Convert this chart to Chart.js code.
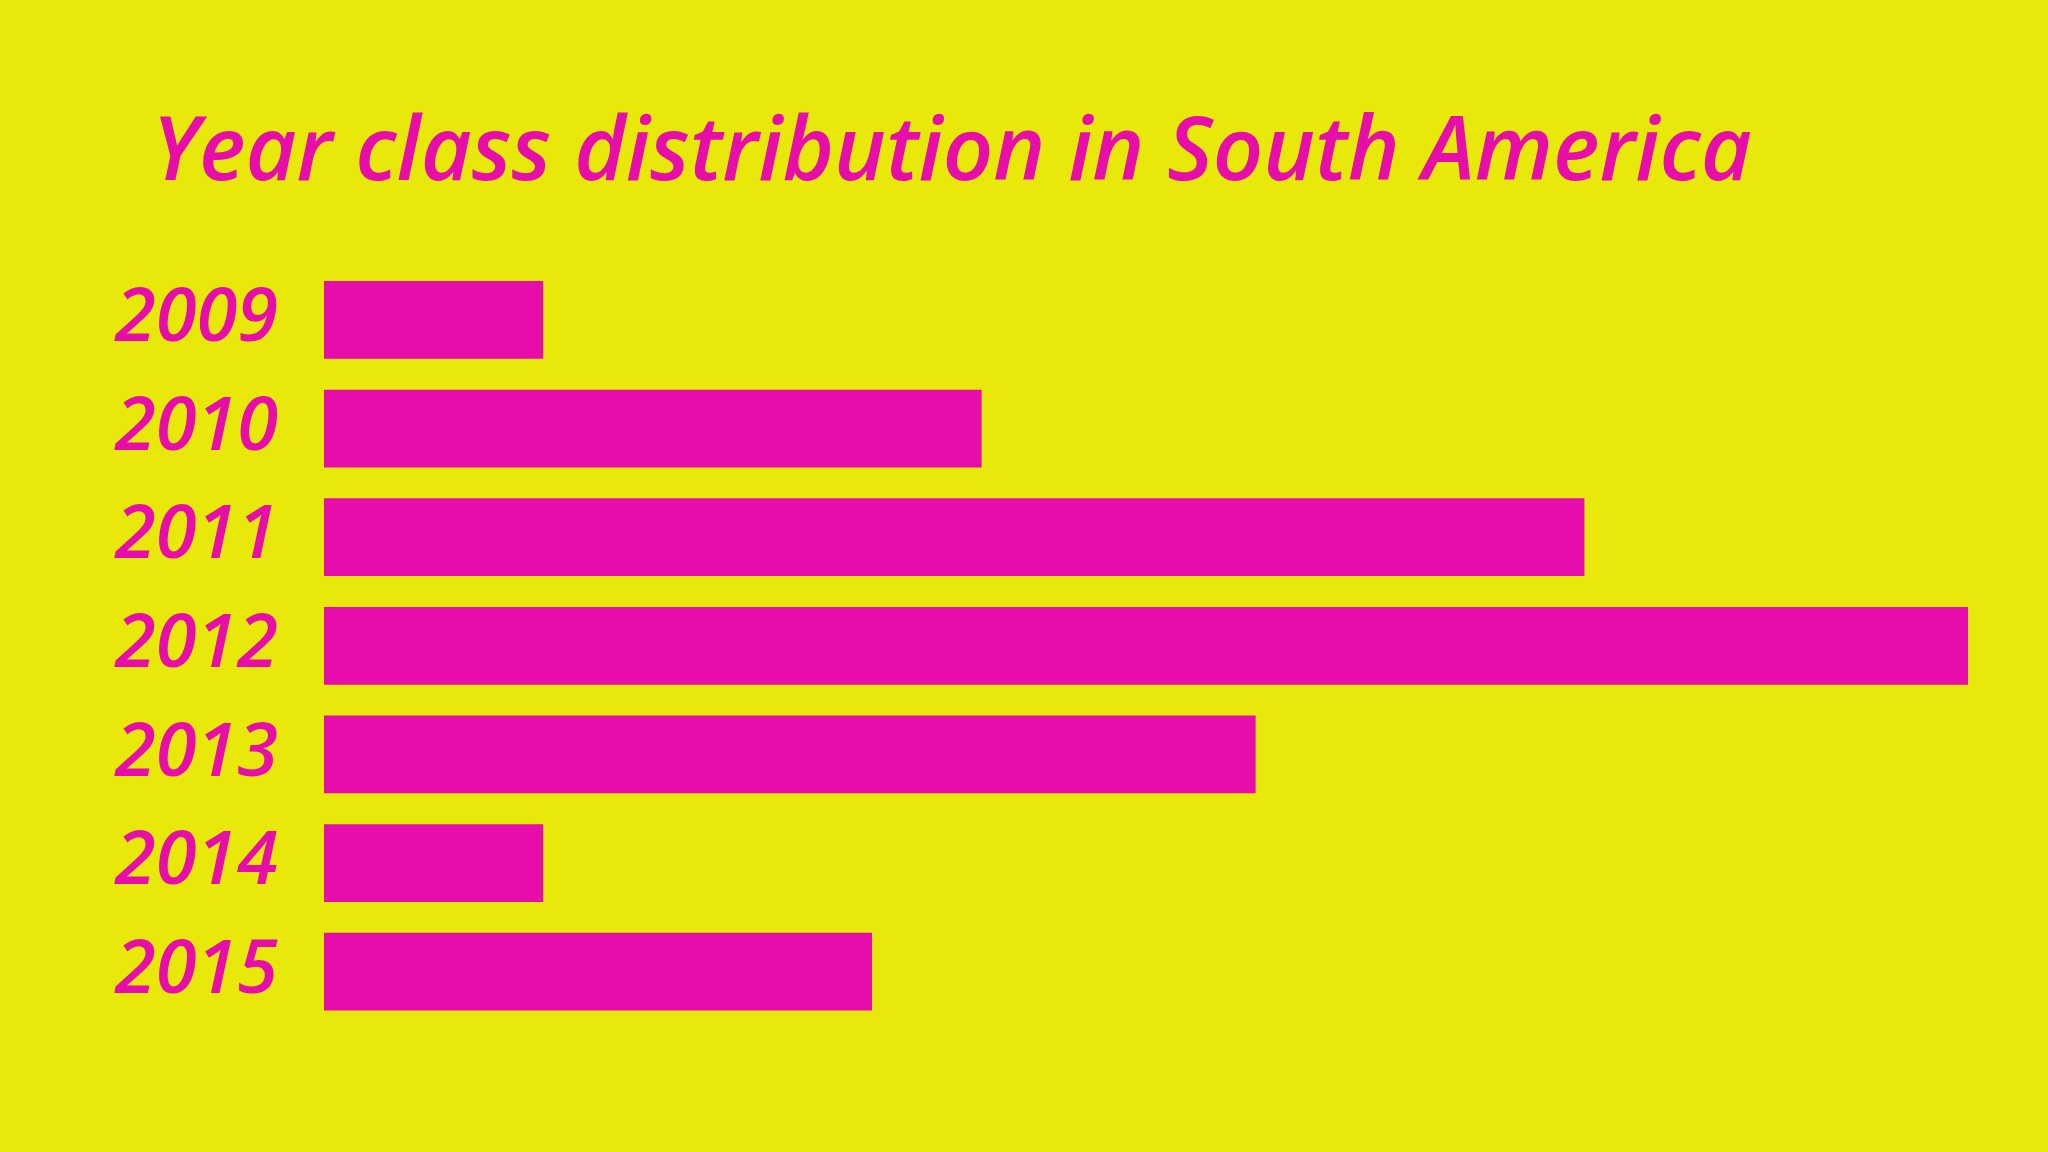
<!DOCTYPE html>
<html>
<head>
<meta charset="utf-8">
<script src="https://cdn.jsdelivr.net/npm/chart.js@4.4.1/dist/chart.umd.min.js"></script>
<style>
    html, body { margin: 0; padding: 0; background: #E8E80B; }
    #wrap { width: 2048px; height: 1152px; }
</style>
</head>
<body>
<div id="wrap"><canvas id="yearChart" width="2048" height="1152"></canvas></div>
<script>
// Year class shares (percent)
const years = ['2009', '2010', '2011', '2012', '2013', '2014', '2015'];
const shares = [4, 12, 23, 30, 17, 4, 10];
const titleText = 'Year class distribution in South America';

const magenta = '#E60DAA';
const yellow = '#E8E80B';
const fontFamily = "'Open Sans', 'Lato', sans-serif";

// Paint the yellow backdrop behind everything
const backdrop = {
    id: 'backdrop',
    beforeDraw(chart) {
        const c = chart.ctx;
        c.save();
        c.fillStyle = yellow;
        c.fillRect(0, 0, chart.width, chart.height);
        c.restore();
    }
};

// The title starts a bit right of the year labels
const titleIndent = {
    id: 'titleIndent',
    afterLayout(chart) {
        if (chart.titleBlock) chart.titleBlock.left = 152;
    }
};

new Chart(document.getElementById('yearChart'), {
    type: 'bar',
    data: {
        labels: years,
        datasets: [{
            data: shares,
            backgroundColor: magenta,
            borderWidth: 0,
            barPercentage: 0.716,
            categoryPercentage: 1
        }]
    },
    options: {
        indexAxis: 'y',
        responsive: false,
        devicePixelRatio: 1,
        animation: false,
        layout: {
            padding: { top: 40, left: 80, right: 80, bottom: 126 }
        },
        plugins: {
            legend: { display: false },
            tooltip: { enabled: false },
            title: {
                display: true,
                text: titleText,
                align: 'start',
                color: magenta,
                padding: { top: 62, bottom: 58 },
                font: { family: fontFamily, size: 88, style: 'italic', weight: '600' }
            }
        },
        scales: {
            x: {
                display: false,
                min: 0,
                max: 30
            },
            y: {
                grid: { display: false },
                border: { display: false },
                afterFit(scale) { scale.width = 244; },
                ticks: {
                    autoSkip: false,
                    color: magenta,
                    padding: 38,
                    font: { family: fontFamily, size: 74, style: 'italic', weight: '600' }
                }
            }
        }
    },
    plugins: [backdrop, titleIndent]
});
</script>
</body>
</html>
